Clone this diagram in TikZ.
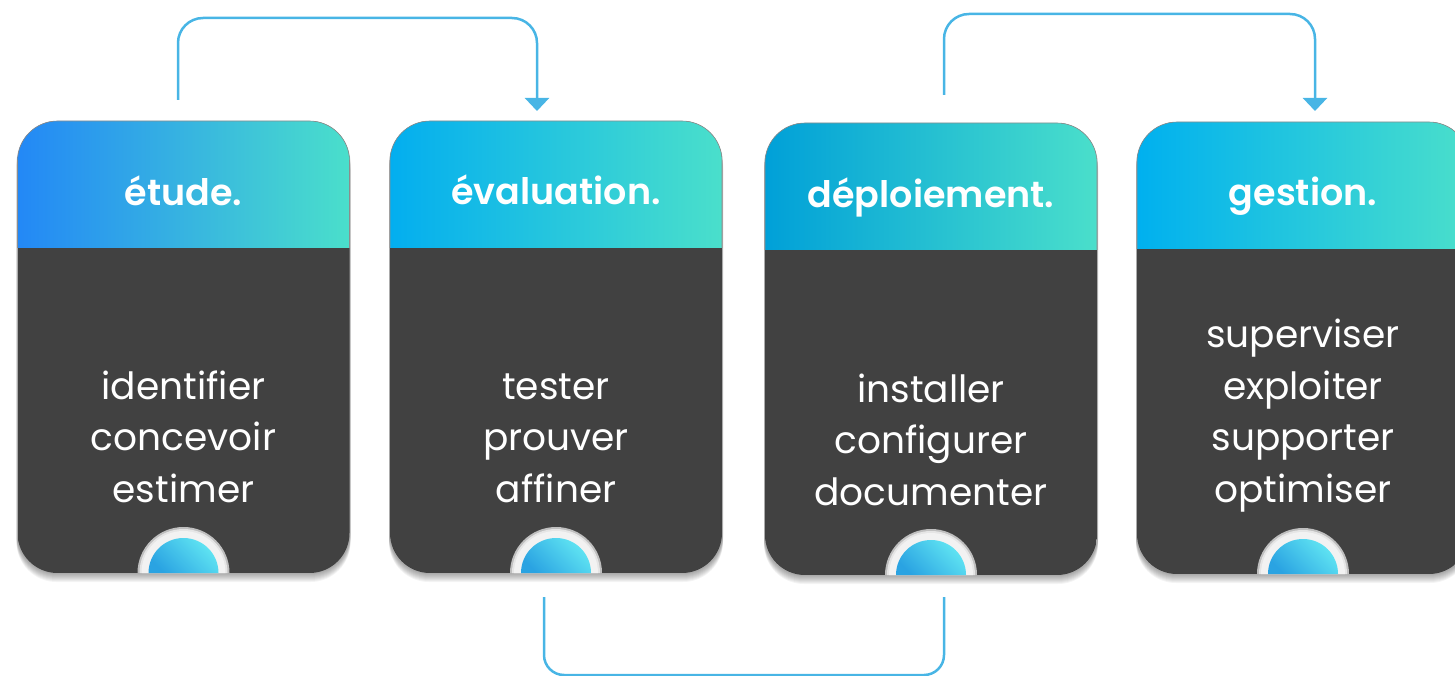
\documentclass[tikz,border=0pt]{standalone}
\usepackage{fontspec}
\setmainfont{Poppins}
\newfontfamily\headfont{Poppins SemiBold}
\usetikzlibrary{arrows.meta}
\definecolor{cardGrey}{HTML}{414141}
\definecolor{flowBlue}{HTML}{48B5E5}
\definecolor{etudeBlue}{HTML}{2388F6}
\definecolor{evalBlue}{HTML}{03AEEF}
\definecolor{deplBlue}{HTML}{00A0D8}
\definecolor{gestBlue}{HTML}{00B0EF}
\definecolor{headTeal}{HTML}{4ADFCB}
\definecolor{dotLow}{HTML}{2AA3E2}
\definecolor{dotHigh}{HTML}{62E7F3}
\definecolor{ringGrey}{HTML}{F2F2F2}

\begin{document}
\begin{tikzpicture}[x=1pt, y=-1pt,
  flow/.style={flowBlue, line width=2.5pt, rounded corners=25pt},
  title/.style={text=white, anchor=base, font=\fontsize{36.5}{42}\headfont},
  items/.style={text=white, anchor=base, align=center, font=\fontsize{37.5}{51.5}\selectfont}]
\useasboundingbox (0,0) rectangle (1455,676);
% the four cards
\foreach \x/\t/\lc in {17.5/121/etudeBlue, 390/121/evalBlue, 765/123/deplBlue, 1137/122/gestBlue} {
  \foreach \s in {1,...,9}
    \fill[black, opacity=.045, rounded corners=40pt] (\x-1,\t+\s) rectangle (\x+333,\t+452+\s);
  \begin{scope}
    \clip[rounded corners=40pt] (\x,\t) rectangle (\x+332,\t+452);
    \fill[cardGrey] (\x,\t) rectangle (\x+332,\t+452);
    \shade[left color=\lc, right color=headTeal] (\x,\t) rectangle (\x+332,\t+127);
  \end{scope}
  \draw[black!45, line width=.6pt, rounded corners=40pt] (\x,\t+127) -- (\x,\t) -- (\x+332,\t) -- (\x+332,\t+127);
  % half dot at the foot
  \fill[black!25] (\x+166-46,\t+452) arc[start angle=180, end angle=360, radius=46] -- cycle;
  \fill[black!10] (\x+166-44,\t+452) arc[start angle=180, end angle=360, radius=44] -- cycle;
  \fill[ringGrey] (\x+166-42,\t+452) arc[start angle=180, end angle=360, radius=42] -- cycle;
  \shade[left color=dotLow, right color=dotHigh, shading angle=135] (\x+166-35,\t+452) arc[start angle=180, end angle=360, radius=35] -- cycle;
}

\node[title] (etude) at (183.5,206) {étude.};
\node[title] (eval) at (556,205) {évaluation.};
\node[title] (depl) at (931,208) {déploiement.};
\node[title] (gest) at (1303,206) {gestion.};

\node[items] (etudeItems) at (183.5,502) {identifier\\concevoir\\estimer};
\node[items] (evalItems) at (556,502) {tester\\prouver\\affiner};
\node[items] (deplItems) at (931,505) {installer\\configurer\\documenter};
\node[items] (gestItems) at (1303,502) {superviser\\exploiter\\supporter\\optimiser};

% connectors
\coordinate (etudeOut) at (178,100);
\coordinate (evalIn) at (537,111);
\coordinate (evalOut) at (544,597);
\coordinate (deplIn) at (944,597);
\coordinate (deplOut) at (944,95);
\coordinate (gestIn) at (1315,111);
\draw[flow, -{Triangle[width=24pt,length=13pt]}] (etudeOut) -- ++(0,-82) -| (evalIn);
\draw[flow, rounded corners=20pt] (evalOut) -- ++(0,78) -| (deplIn);
\draw[flow, -{Triangle[width=24pt,length=13pt]}] (deplOut) -- ++(0,-81) -| (gestIn);
\end{tikzpicture}
\end{document}
